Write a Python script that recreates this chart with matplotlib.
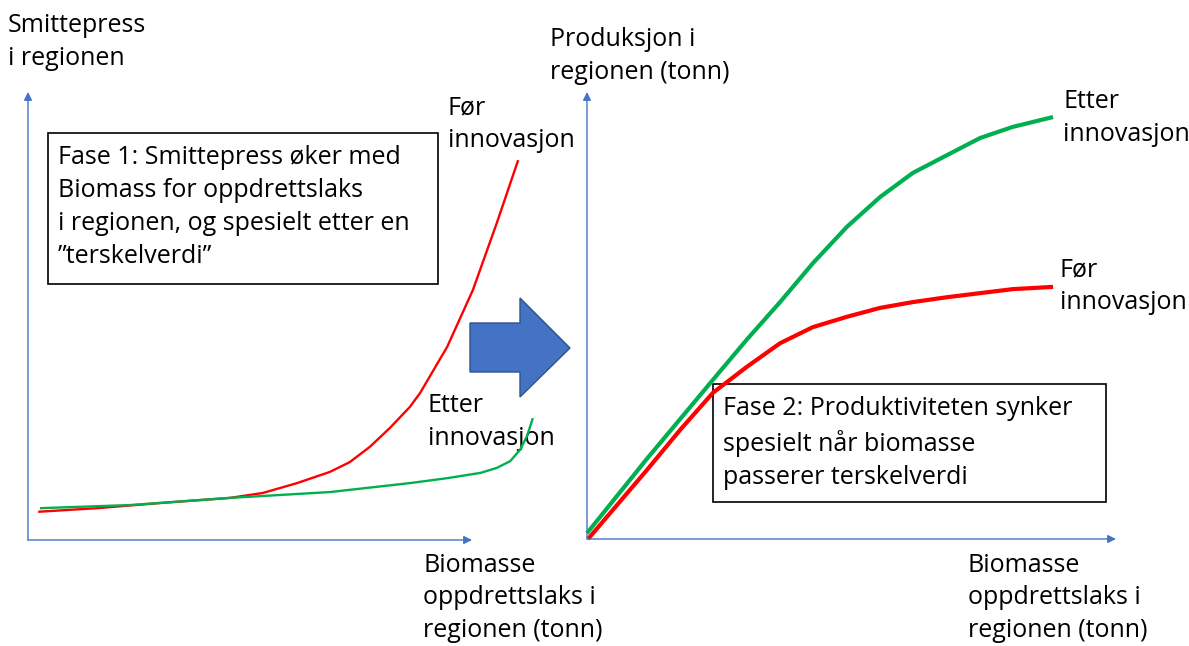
import matplotlib
matplotlib.use("Agg")
import matplotlib.pyplot as plt
from matplotlib.patches import Rectangle, Polygon

plt.rcParams['font.family'] = ['Open Sans', 'DejaVu Sans']

# Fase 1: smittepress vs biomasse (arbitrary units, 0-100 = x-axis arrow length)
bio_left_for = [2.3, 15.5, 30.4, 45.5, 52.9, 60.6, 68.0, 72.5, 77.0, 81.5, 86.0, 88.3,
                94.4, 100.2, 105.6, 110.4]
smitte_for = [6.3, 7.1, 8.3, 9.4, 10.5, 12.7, 15.2, 17.4, 20.8, 25.0, 29.7, 32.8,
              43.1, 55.8, 70.8, 84.8]
bio_left_etter = [2.7, 23.0, 45.5, 68.0, 86.0, 94.4, 102.0, 105.6, 108.6, 110.8, 112.4, 113.7]
smitte_etter = [7.1, 7.8, 9.4, 10.7, 12.7, 13.8, 15.0, 16.1, 17.6, 20.1, 23.2, 27.2]

# Fase 2: produksjon vs biomasse
bio_right_etter = [0, 11.3, 23.8, 30.2, 36.5, 42.7, 49.1, 55.4, 61.6, 68.1, 74.3, 80.5, 88.1]
prod_etter = [1.3, 17.9, 35.6, 44.6, 53.0, 61.7, 69.8, 76.5, 81.9, 85.9, 89.7, 92.2, 94.4]
bio_right_for = [0.2, 11.3, 17.6, 23.8, 30.2, 36.5, 42.7, 49.1, 55.4, 61.6, 68.1, 74.3, 80.5, 88.1]
prod_for = [0, 15.4, 24.4, 32.7, 38.5, 43.8, 47.4, 49.7, 51.7, 53.0, 54.1, 55.0, 55.9, 56.4]

RED = '#FF0000'
GREEN = '#00B050'
BLUE = '#4472C4'
W, H = 1189, 646

fig = plt.figure(figsize=(W / 100, H / 100), dpi=100)

# overlay in pixel coordinates for texts, boxes and the block arrow
ov = fig.add_axes([0, 0, 1, 1])
ov.set_xlim(0, W)
ov.set_ylim(H, 0)
ov.axis('off')


def panel(x0, y0, xlen, ylen, xmax):
    ax = fig.add_axes([x0 / W, (H - y0) / H, xmax * xlen / 100 / W, ylen / H])
    ax.set_xlim(0, xmax)
    ax.set_ylim(0, 100)
    ax.axis('off')
    ax.patch.set_alpha(0)
    arrow = dict(arrowstyle='-|>', color=BLUE, lw=1, mutation_scale=12, shrinkA=0, shrinkB=0)
    ax.annotate('', xy=(100, 0), xytext=(0, 0), arrowprops=arrow)
    ax.annotate('', xy=(0, 100), xytext=(0, 0), arrowprops=arrow)
    return ax


axl = panel(28, 540, 444, 448, 120)
axl.plot(bio_left_for, smitte_for, color=RED, lw=1.7, clip_on=False, solid_capstyle='butt')
axl.plot(bio_left_etter, smitte_etter, color=GREEN, lw=1.7, clip_on=False, solid_capstyle='butt')

axr = panel(587, 539, 529, 447, 100)
axr.plot(bio_right_etter, prod_etter, color=GREEN, lw=3, clip_on=False, solid_capstyle='butt')
axr.plot(bio_right_for, prod_for, color=RED, lw=3, clip_on=False, solid_capstyle='butt')

# big block arrow between the panels
ov.add_patch(Polygon([(470, 323), (520, 323), (520, 298), (570, 348), (520, 397), (520, 372), (470, 372)],
                     closed=True, facecolor=BLUE, edgecolor='#2F528F', lw=1, zorder=5))

# text boxes
ov.add_patch(Rectangle((48, 133), 390, 151, fill=False, edgecolor='black', lw=1.2))
ov.add_patch(Rectangle((713, 384), 393, 118, fill=False, edgecolor='black', lw=1.2, zorder=1))

fs = 18
ls = 1.42


def label(x, y, s):
    ov.text(x, y, s, fontsize=fs, ha='left', va='center', linespacing=ls, color='black', zorder=6)


label(8, 42, "Smittepress\ni regionen")
label(448, 124, "Før\ninnovasjon")
label(58, 207, "Fase 1: Smittepress øker med\nBiomass for oppdrettslaks\ni regionen, og spesielt etter en\n\u201dterskelverdi\u201d")
label(428, 422, "Etter\ninnovasjon")
label(423, 598, "Biomasse\noppdrettslaks i\nregionen (tonn)")

label(550, 56, "Produksjon i\nregionen (tonn)")
label(1063, 118, "Etter\ninnovasjon")
label(1060, 286, "Før\ninnovasjon")
label(723, 443, "Fase 2: Produktiviteten synker\nspesielt når biomasse\npasserer terskelverdi")
label(968, 598, "Biomasse\noppdrettslaks i\nregionen (tonn)")

fig.savefig('out.png', dpi=100)
